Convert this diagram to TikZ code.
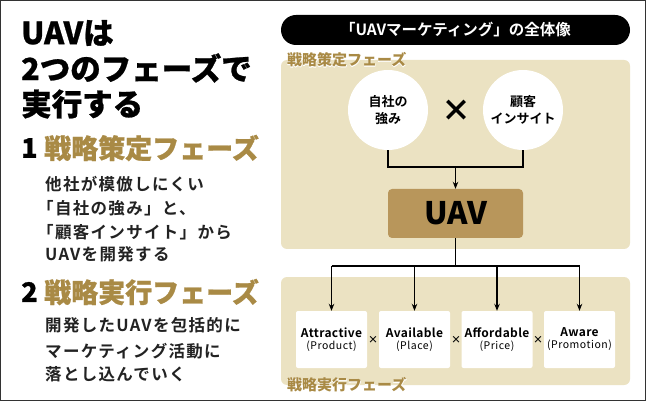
\documentclass[tikz,border=0pt]{standalone}
\usepackage{fontspec}
\usetikzlibrary{arrows.meta,calc}
\newfontfamily\jp[BoldFont={Noto Sans CJK JP Black}]{Noto Sans CJK JP}
\newfontfamily\jphead[FakeBold=0.8]{Noto Sans CJK JP Black}
\newfontfamily\jpb{Noto Sans CJK JP Bold}
\newfontfamily\jpbody[LetterSpace=8]{Noto Sans CJK JP Bold}
\newfontfamily\jplat[LetterSpace=3]{Noto Sans CJK JP Bold}
\newfontfamily\jpsm[LetterSpace=5]{Noto Sans CJK JP}
\newfontfamily\jphalo[FakeBold=4]{Noto Sans CJK JP Black}
\definecolor{beige}{HTML}{EBE2C2}
\definecolor{gold}{HTML}{A98A45}
\definecolor{uavc}{HTML}{B8965B}
\definecolor{txt}{HTML}{222222}
\tikzset{
  panel/.style={fill=beige,rounded corners=6pt},
  circ/.style={circle,fill=white,minimum size=80pt,inner sep=0pt,align=center,font=\jpb\fontsize{13}{17}\selectfont},
  pbox/.style={fill=white,rounded corners=2pt,minimum width=71pt,minimum height=57pt,inner sep=0pt,align=center},
  conn/.style={line width=1.3pt,black},
  arr/.style={conn,-{Stealth[length=7pt,width=5.5pt]}},
  bigtxt/.style={anchor=west,inner sep=0pt,font=\jphead\fontsize{30.5}{32}\selectfont},
  body/.style={anchor=west,inner sep=0pt,text=txt,font=\jpbody\fontsize{16.5}{18}\selectfont},
  phase/.style={anchor=west,inner sep=0pt,text=gold,font=\jphead\fontsize{27}{28}\selectfont},
  tiny/.style={font=\jpb\fontsize{10}{10}\selectfont,inner sep=0pt},
}
\newcommand{\boxtext}[2]{{\jplat\fontsize{12}{14}\selectfont #1}\\[0pt]{\jpsm\fontsize{10.5}{12}\selectfont (#2)}}
\begin{document}
\begin{tikzpicture}[x=1pt,y=-1pt]
\useasboundingbox (0,0) rectangle (650,403);
\fill[white] (0,0) rectangle (650,403);
\draw[line width=1pt,black!80] (0.8,0.8) rectangle (645,400);
% left column
\node[bigtxt] (h1) at (21,33) {UAVは};
\node[bigtxt] (h2) at (21,68) {2つのフェーズで};
\node[bigtxt] (h3) at (21,104) {実行する};
\node[anchor=west,inner sep=0pt,font=\jphead\fontsize{27}{28}\selectfont] (n1) at (21,148) {1};
\node[phase] (p1) at (44,148) {戦略策定フェーズ};
\node[body] (t1) at (45,184) {他社が模倣しにくい};
\node[body] (t2) at (37,208) {「自社の強み」と、};
\node[body] (t3) at (37,232) {「顧客インサイト」から};
\node[body] (t4) at (45,254) {UAVを開発する};
\node[anchor=west,inner sep=0pt,font=\jphead\fontsize{27}{28}\selectfont] (n2) at (21,292) {2};
\node[phase] (p2) at (44,292) {戦略実行フェーズ};
\node[body] (t5) at (45,325) {開発したUAVを包括的に};
\node[body] (t6) at (45,351) {マーケティング活動に};
\node[body] (t7) at (45,374) {落とし込んでいく};
% title pill
\node[fill=black,rounded corners=15pt,minimum width=349pt,minimum height=30pt,inner sep=0pt,text=white,font=\jpb\fontsize{15.5}{16}\selectfont] (title) at (455.5,30) {「UAVマーケティング」の全体像};
% panels
\fill[panel] (281,60) rectangle (630,249);
\fill[panel] (281,277) rectangle (630,385);
% labels with halo
\node[anchor=west,inner sep=0pt,text=white,font=\jphalo\fontsize{15}{16}\selectfont] (l1h) at (287,60) {戦略策定フェーズ};
\node[anchor=west,inner sep=0pt,text=gold,font=\jp\bfseries\fontsize{15}{16}\selectfont] (l1) at (287,60) {戦略策定フェーズ};
\node[anchor=west,inner sep=0pt,text=white,font=\jphalo\fontsize{15}{16}\selectfont] (l2h) at (287,385) {戦略実行フェーズ};
\node[anchor=west,inner sep=0pt,text=gold,font=\jp\bfseries\fontsize{15}{16}\selectfont] (l2) at (287,385) {戦略実行フェーズ};
% circles
\node[circ] (c1) at (388,110) {自社の\\強み};
\node[circ] (c2) at (523,110) {顧客\\インサイト};
\node[font=\jp\bfseries\fontsize{30}{30}\selectfont,inner sep=0pt] (x0) at (456,111) {×};
% UAV
\node[fill=uavc,rounded corners=4pt,minimum width=135pt,minimum height=49pt,inner sep=0pt,font=\jp\bfseries\fontsize{31}{32}\selectfont] (uav) at (455.5,213.5) {UAV};
\coordinate (j1) at (455.5,167);
\draw[conn] (c1.south) |- (j1) -| (c2.south);
\draw[arr] (j1) -- (uav.north);
% boxes
\node[pbox] (b1) at (331.5,339.5) {\boxtext{Attractive}{Product}};
\node[pbox] (b2) at (414.5,339.5) {\boxtext{Available}{Place}};
\node[pbox] (b3) at (497,339.5) {\boxtext{Affordable}{Price}};
\node[pbox] (b4) at (579.5,339.5) {\boxtext{Aware}{Promotion}};
\node[tiny] (x1) at (373,340) {×};
\node[tiny] (x2) at (456,340) {×};
\node[tiny] (x3) at (538,340) {×};
\coordinate (j2) at (455.5,266);
\draw[conn] (uav.south) -- (j2);
\draw[conn] (b1.north |- j2) -- (b4.north |- j2);
\draw[arr] (b1.north |- j2) -- (b1.north);
\draw[arr] (b2.north |- j2) -- (b2.north);
\draw[arr] (b3.north |- j2) -- (b3.north);
\draw[arr] (b4.north |- j2) -- (b4.north);
\end{tikzpicture}
\end{document}
